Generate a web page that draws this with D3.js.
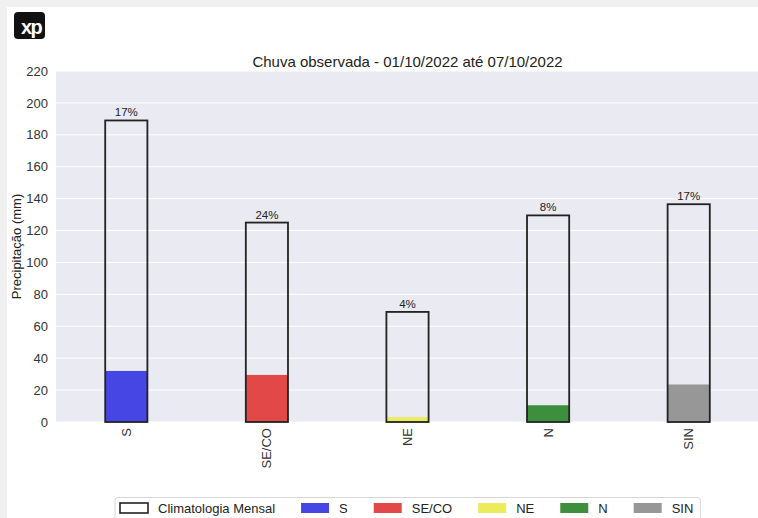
<!DOCTYPE html>
<html>
<head>
<meta charset="utf-8">
<script src="https://cdn.jsdelivr.net/npm/d3@7"></script>
<style>
  body { margin: 0; background: #f0f0f0; }
  svg { display: block; font-family: "Liberation Sans", Arial, sans-serif; }
</style>
</head>
<body>
<svg id="chart" width="758" height="518"></svg>
<script>
// data
const regions = ["S", "SE/CO", "NE", "N", "SIN"];
const climatologia = [189, 125, 69, 129.5, 136.5];
const observada = [32, 29.5, 3, 10.5, 23.5];
const percentLabels = ["17%", "24%", "4%", "8%", "17%"];
const yTicks = [0, 20, 40, 60, 80, 100, 120, 140, 160, 180, 200, 220];
const regionColors = ["#4646e4", "#e24848", "#ebeb5c", "#3d8f3d", "#979797"];

const width = 758, height = 518;
const margin = { top: 71, right: -1, bottom: 96, left: 56 };

const svg = d3.select("#chart");

// page frame
svg.append("rect").attr("width", width).attr("height", height).attr("fill", "#f0f0f0");
svg.append("rect").attr("x", 7).attr("y", 7).attr("width", width - 7).attr("height", height - 7).attr("fill", "#fff");

// logo
svg.append("clipPath").attr("id", "logo-clip")
    .append("rect").attr("x", 14).attr("y", 12).attr("width", 31).attr("height", 27).attr("rx", 4);
const logo = svg.append("g").attr("clip-path", "url(#logo-clip)");
logo.append("rect").attr("x", 14).attr("y", 12).attr("width", 31).attr("height", 27).attr("fill", "#111");
logo.append("text")
    .attr("x", 21).attr("y", 34)
    .attr("fill", "#fff")
    .attr("font-size", 20)
    .attr("font-weight", "bold")
    .attr("letter-spacing", -1.5)
    .text("xp");

const x = d3.scaleBand()
    .domain(regions)
    .range([margin.left, width - margin.right])
    .paddingInner(0.7)
    .paddingOuter(0.35);

const y = d3.scaleLinear()
    .domain([0, 220])
    .range([height - margin.bottom, margin.top]);

// plot background
svg.append("rect")
    .attr("x", margin.left)
    .attr("y", margin.top)
    .attr("width", width - margin.right - margin.left)
    .attr("height", y(0) - margin.top)
    .attr("fill", "#eaeaf2");

// grid
svg.append("g")
    .selectAll("line")
    .data(yTicks)
    .enter()
    .append("line")
    .attr("x1", margin.left)
    .attr("x2", width - margin.right)
    .attr("y1", d => y(d))
    .attr("y2", d => y(d))
    .attr("stroke", "#fff")
    .attr("stroke-width", 1);

// y axis
const yAxis = svg.append("g")
    .attr("transform", `translate(${margin.left},0)`)
    .call(d3.axisLeft(y).tickValues(yTicks).tickSize(0).tickPadding(8));
yAxis.select(".domain").remove();
yAxis.selectAll("text").attr("font-size", 13).attr("fill", "#333").attr("font-family", null);

// x axis
const xAxis = svg.append("g")
    .attr("transform", `translate(0,${y(0)})`)
    .call(d3.axisBottom(x).tickSize(0));
xAxis.select(".domain").remove();
xAxis.selectAll("text")
    .attr("font-size", 13)
    .attr("fill", "#333")
    .attr("font-family", null)
    .attr("text-anchor", "end")
    .attr("transform", "rotate(-90)")
    .attr("x", -6)
    .attr("y", 0)
    .attr("dy", "0.35em");

// observed bars
svg.append("g")
    .selectAll("rect")
    .data(regions)
    .enter()
    .append("rect")
    .attr("x", d => x(d))
    .attr("width", x.bandwidth())
    .attr("y", (d, i) => y(observada[i]))
    .attr("height", (d, i) => y(0) - y(observada[i]))
    .attr("fill", (d, i) => regionColors[i]);

// climatology outline bars
svg.append("g")
    .selectAll("rect")
    .data(regions)
    .enter()
    .append("rect")
    .attr("x", d => x(d))
    .attr("width", x.bandwidth())
    .attr("y", (d, i) => y(climatologia[i]))
    .attr("height", (d, i) => y(0) - y(climatologia[i]))
    .attr("fill", "none")
    .attr("stroke", "#222")
    .attr("stroke-width", 1.8);

// percent labels
svg.append("g")
    .selectAll("text")
    .data(regions)
    .enter()
    .append("text")
    .attr("x", d => x(d) + x.bandwidth() / 2)
    .attr("y", (d, i) => y(climatologia[i]) - 4)
    .attr("text-anchor", "middle")
    .attr("font-size", 11.5)
    .attr("fill", "#222")
    .text((d, i) => percentLabels[i]);

// title
svg.append("text")
    .attr("x", (margin.left + width - margin.right) / 2)
    .attr("y", 67)
    .attr("text-anchor", "middle")
    .attr("font-size", 15)
    .attr("fill", "#222")
    .text("Chuva observada - 01/10/2022 até 07/10/2022");

// y label
svg.append("text")
    .attr("transform", `translate(21,${(margin.top + y(0)) / 2}) rotate(-90)`)
    .attr("text-anchor", "middle")
    .attr("font-size", 13)
    .attr("fill", "#222")
    .text("Precipitação (mm)");

// legend
const legendItems = [{ label: "Climatologia Mensal", color: null }]
    .concat(regions.map((r, i) => ({ label: r, color: regionColors[i] })));

const legend = svg.append("g");
const legendBox = legend.append("rect")
    .attr("y", 497.5)
    .attr("height", 40)
    .attr("rx", 3)
    .attr("fill", "#fff")
    .attr("stroke", "#d6d6d6");

let lx = 120;
legendItems.forEach(item => {
    legend.append("rect")
        .attr("x", lx)
        .attr("y", 503)
        .attr("width", 28)
        .attr("height", 10)
        .attr("fill", item.color || "none")
        .attr("stroke", item.color ? "none" : "#222")
        .attr("stroke-width", 1.6);
    const t = legend.append("text")
        .attr("x", lx + 38)
        .attr("y", 513)
        .attr("font-size", 13)
        .attr("fill", "#222")
        .text(item.label);
    lx += 38 + t.node().getComputedTextLength() + 26;
});
legendBox.attr("x", 115).attr("width", lx - 26 + 7 - 115);
</script>
</body>
</html>
